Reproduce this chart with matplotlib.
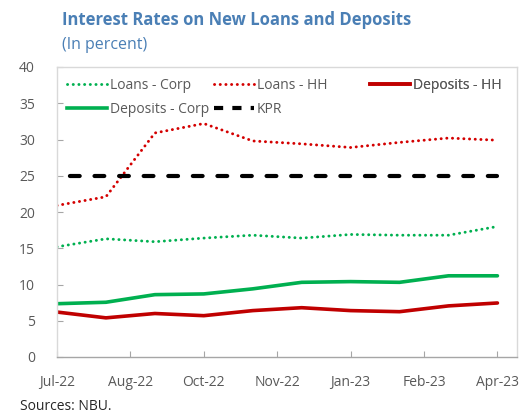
import matplotlib
matplotlib.use("Agg")
import matplotlib.pyplot as plt
from matplotlib.lines import Line2D

plt.rcParams['font.family'] = ['Open Sans', 'DejaVu Sans']

months = ["Jul-22", "Aug-22", "Sep-22", "Oct-22", "Nov-22", "Dec-22",
          "Jan-23", "Feb-23", "Mar-23", "Apr-23"]
tick_positions = [0, 1.5, 3, 4.5, 6, 7.5, 9]
tick_labels = ["Jul-22", "Aug-22", "Oct-22", "Nov-22", "Jan-23", "Feb-23", "Apr-23"]

loans_corp = [15.2, 16.3, 15.9, 16.4, 16.8, 16.4, 16.9, 16.8, 16.8, 18.0]
loans_hh = [20.9, 22.1, 30.9, 32.2, 29.8, 29.4, 28.9, 29.6, 30.2, 29.9]
deposits_hh = [6.2, 5.4, 6.0, 5.7, 6.4, 6.8, 6.4, 6.25, 7.05, 7.45]
deposits_corp = [7.35, 7.55, 8.6, 8.7, 9.4, 10.3, 10.4, 10.3, 11.2, 11.2]
kpr = [25] * len(months)

GREEN = "#00b050"
RED = "#c00000"
DOT_RED = "#d40000"
GREY = "#595959"
FRAME = "#d9d9d9"
TITLE = "#4a7fb5"

DOT = dict(lw=2.1, linestyle=(0, (0.05, 1.9)), dash_capstyle='round')
DASH = dict(lw=3.0, linestyle=(2.8, (2.35, 3.55)), dash_capstyle='round')
SOLID = dict(lw=2.6, solid_capstyle='round')

fig = plt.figure(figsize=(5.21, 4.16), dpi=100)
ax = fig.add_axes([57 / 521, 59 / 416, (517 - 57) / 521, (357 - 67) / 416])

x = list(range(len(months)))
ax.plot(x, loans_corp, color=GREEN, **DOT)
ax.plot(x, loans_hh, color=DOT_RED, **DOT)
ax.plot(x, kpr, color="black", **DASH)
ax.plot(x, deposits_corp, color=GREEN, **SOLID)
ax.plot(x, deposits_hh, color=RED, **SOLID)

ax.set_xlim(0, 9.4)
ax.set_ylim(0, 40)
ax.set_yticks(range(0, 41, 5))
ax.set_xticks(tick_positions)
ax.set_xticklabels(tick_labels)

for s in ax.spines.values():
    s.set_color(FRAME)
    s.set_linewidth(1.0)
ax.spines['bottom'].set_color("#a6a6a6")

ax.tick_params(axis='y', direction='in', length=4, color="#a6a6a6",
               labelcolor=GREY, labelsize=10, pad=16)
ax.tick_params(axis='x', direction='in', length=4, color="#a6a6a6",
               labelcolor=GREY, labelsize=10, pad=13)

# legend laid out as three columns placed side by side
columns = [
    (10, [(Line2D([], [], color=GREEN, **DOT), "Loans - Corp"),
          (Line2D([], [], color=GREEN, lw=2.6), "Deposits - Corp")]),
    (157, [(Line2D([], [], color=DOT_RED, **DOT), "Loans - HH"),
           (Line2D([], [], color="black", lw=3.0, linestyle=(0, (2.2, 2.2))), "KPR")]),
    (313, [(Line2D([], [], color=RED, lw=2.6), "Deposits - HH")]),
]
for xoff, entries in columns:
    leg = ax.legend([h for h, _ in entries], [l for _, l in entries],
                    loc='upper left', frameon=False, fontsize=10,
                    handlelength=2.9, handletextpad=0.2, labelspacing=0.65,
                    borderpad=0, borderaxespad=0,
                    bbox_to_anchor=(xoff / 460, 1 - 11 / 290))
    for t in leg.get_texts():
        t.set_color(GREY)
    ax.add_artist(leg)

fig.text(62 / 521, 1 - 20 / 416, "Interest Rates on New Loans and Deposits",
         color=TITLE, fontsize=12, fontweight='bold', va='center', ha='left')
fig.text(62 / 521, 1 - 45 / 416, "(In percent)", color=TITLE, fontsize=11.5,
         va='center', ha='left')
fig.text(20 / 521, 1 - 407 / 416, "Sources: NBU.", color="#262626", fontsize=10,
         va='center', ha='left')

fig.savefig("out.png", dpi=100)
